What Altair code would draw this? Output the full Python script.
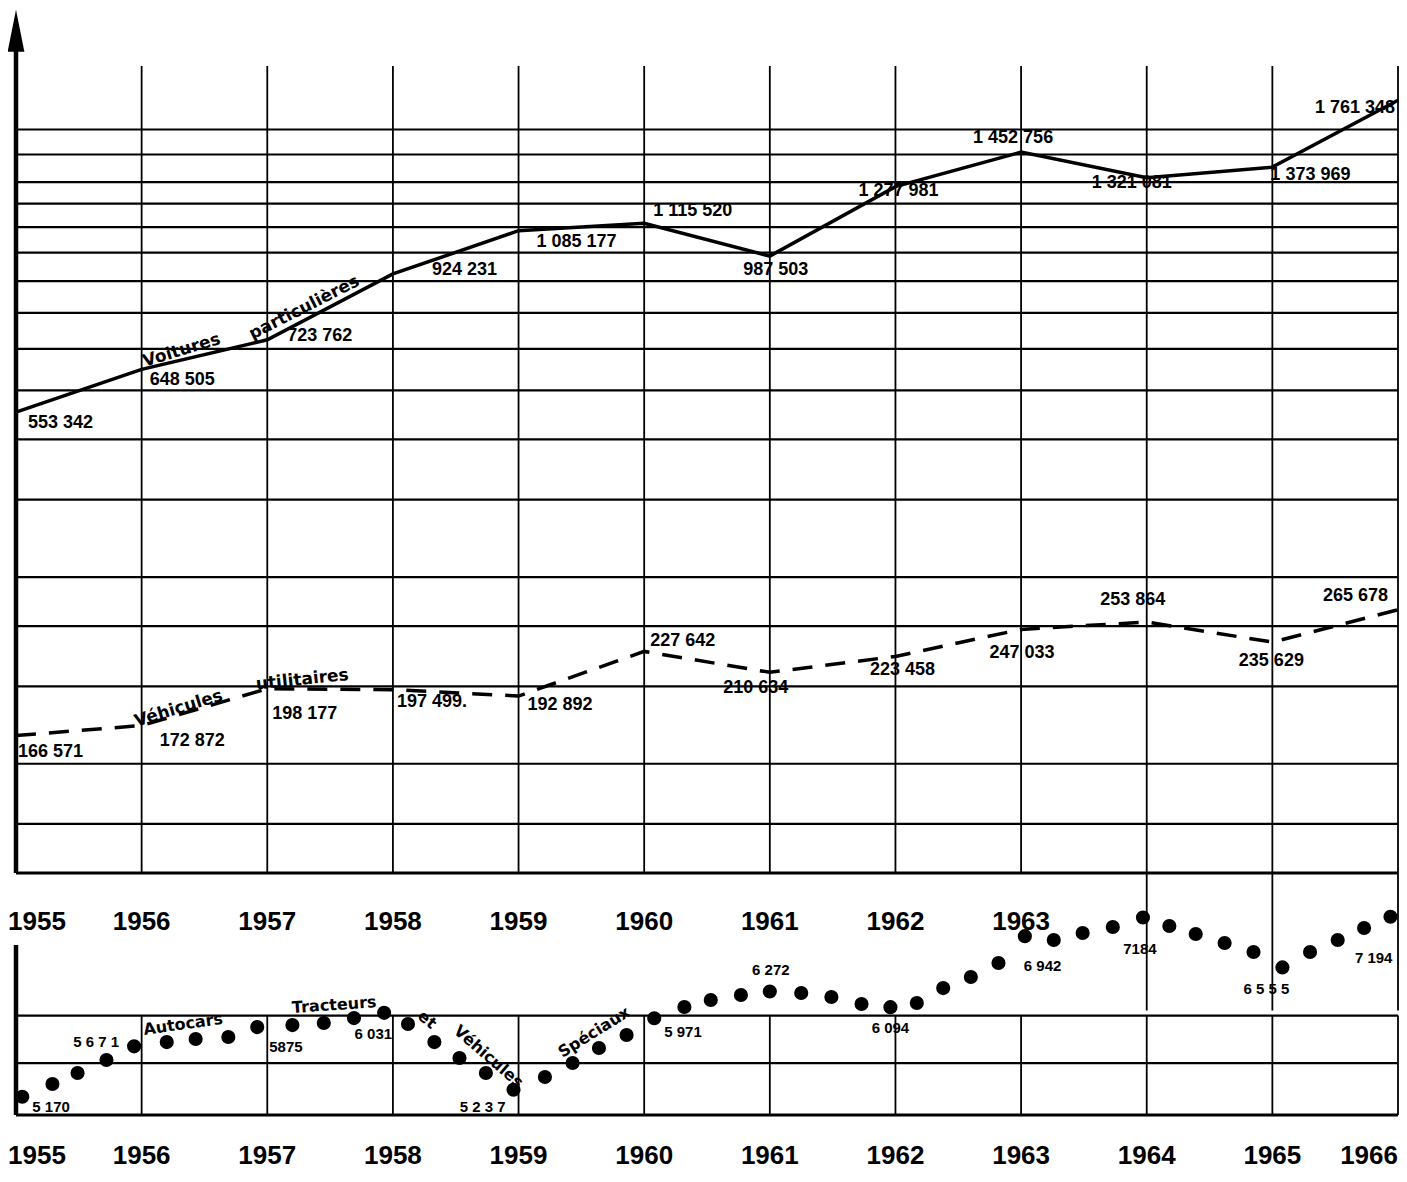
import math
import altair as alt
import pandas as pd

# ---------------------------------------------------------------- data
YEARS = [1955, 1956, 1957, 1958, 1959, 1960, 1961, 1962, 1963, 1964, 1965, 1966]

VOITURES = [553342, 648505, 723762, 924231, 1085177, 1115520, 987503,
            1277981, 1452756, 1321081, 1373969, 1761348]
VOITURES_LBL = ["553 342", "648 505", "723 762", "924 231", "1 085 177", "1 115 520",
                "987 503", "1 277 981", "1 452 756", "1 321 081", "1 373 969", "1 761 348"]

UTILITAIRES = [166571, 172872, 198177, 197499, 192892, 227642, 210634,
               223458, 247033, 253864, 235629, 265678]
UTILITAIRES_LBL = ["166 571", "172 872", "198 177", "197 499.", "192 892", "227 642",
                   "210 634", "223 458", "247 033", "253 864", "235 629", "265 678"]

# Autocars, tracteurs et véhicules spéciaux : labelled (annual) dots, as drawn
AUTOCARS_T = [1955.05, 1955.94, 1956.92, 1957.93, 1958.96, 1960.08, 1961.00,
              1961.96, 1963.03, 1963.97, 1965.08, 1965.94]
AUTOCARS = [5170, 5671, 5875, 6031, 5237, 5971, 6272, 6094, 6942, 7184, 6555, 7194]
AUTOCARS_LBL = ["5 170", "5 6 7 1", "5875", "6 031", "5 2 3 7", "5 971", "6 272",
                "6 094", "6 942", "7184", "6 5 5 5", "7 194"]
# intermediate dots
INTER_T = [1955.29, 1955.49, 1955.72, 1956.20, 1956.43, 1956.69, 1957.20, 1957.45,
           1957.69, 1958.12, 1958.33, 1958.53, 1958.74, 1959.21, 1959.43, 1959.64,
           1959.86, 1960.32, 1960.53, 1960.77, 1961.25, 1961.49, 1961.73, 1962.17,
           1962.38, 1962.60, 1962.82, 1963.26, 1963.49, 1963.73, 1964.18, 1964.39,
           1964.62, 1964.85, 1965.30, 1965.52, 1965.73]
INTER_V = [5293, 5400, 5531, 5716, 5748, 5769, 5897, 5919,
           5973, 5908, 5716, 5551, 5400, 5361, 5500, 5654,
           5790, 6096, 6175, 6231, 6254, 6209, 6129, 6140,
           6311, 6440, 6608, 6893, 6982, 7059, 7072, 6969,
           6855, 6743, 6743, 6893, 7046]

TOP_GRID = [120000, 150000, 200000, 250000, 300000, 400000, 500000, 600000, 700000,
            800000, 900000, 1000000, 1100000, 1200000, 1300000, 1440000, 1580000]
BOTTOM_GRID = [5500, 6000]
TOP_YEAR_LABELS = YEARS[:9]
BOTTOM_YEAR_LABELS = YEARS
LONG_YEARS = [1964, 1965, 1966]          # vertical lines running into the lower panel

# ---------------------------------------------------------------- layout / style
W, H = 1382, 1049
TOP_DOMAIN, TOP_RANGE = [100000, 2000000], [807, 0]
BOT_DOMAIN, BOT_RANGE = [5000, 6830], [1049, 879]
ARROW_AT = 2280000     # arrow head on the vertical axis (top scale)
LINK_LOW = 60000       # lower end (top scale) of the long vertical lines

NARROW = "Liberation Sans, Arial, sans-serif"
ROUND = "DejaVu Sans, Verdana, sans-serif"
YEAR_SIZE = 26

XS = alt.Scale(domain=[1955, 1966], nice=False, zero=False)
TS = alt.Scale(type="log", domain=TOP_DOMAIN, range=TOP_RANGE, nice=False)
BS = alt.Scale(type="log", domain=BOT_DOMAIN, range=BOT_RANGE, nice=False)


def X(f="t"):
    return alt.X(f + ":Q", scale=XS, axis=None)


def YT(f):
    return alt.Y(f + ":Q", scale=TS, axis=None)


def YB(f):
    return alt.Y(f + ":Q", scale=BS, axis=None)


def rot(ox, oy, ang):
    a = math.radians(ang)
    return ox * math.cos(a) + oy * math.sin(a), -ox * math.sin(a) + oy * math.cos(a)


df_v = pd.DataFrame({"t": YEARS, "v": VOITURES, "lbl": VOITURES_LBL})
df_u = pd.DataFrame({"t": YEARS, "v": UTILITAIRES, "lbl": UTILITAIRES_LBL})
df_a = pd.DataFrame({"t": AUTOCARS_T, "v": AUTOCARS, "lbl": AUTOCARS_LBL})
df_dots = pd.DataFrame({"t": AUTOCARS_T + INTER_T, "v": AUTOCARS + INTER_V})

# ---------------------------------------------------------------- upper panel
top = []
top.append(alt.Chart(pd.DataFrame({"g": TOP_GRID})).mark_rule(color="black", strokeWidth=2.2)
           .encode(y=YT("g")))
top.append(alt.Chart(pd.DataFrame({"g": [TOP_DOMAIN[0]]})).mark_rule(color="black", strokeWidth=3)
           .encode(y=YT("g")))
vg = pd.DataFrame({"t": YEARS[1:],
                   "a": [TOP_DOMAIN[1]] * 11,
                   "b": [LINK_LOW if y in LONG_YEARS else TOP_DOMAIN[0] for y in YEARS[1:]]})
top.append(alt.Chart(vg).mark_rule(color="black", strokeWidth=1.8)
           .encode(x=X(), y=YT("a"), y2="b:Q"))
top.append(alt.Chart(pd.DataFrame({"t": [1955], "a": [TOP_DOMAIN[0]], "b": [ARROW_AT]}))
           .mark_rule(color="black", strokeWidth=4.5).encode(x=X(), y=YT("a"), y2="b:Q"))
top.append(alt.Chart(pd.DataFrame({"t": [1955], "a": [ARROW_AT]}))
           .mark_point(shape="M0,-1L0.4,1L-0.4,1Z", size=1764, filled=True, opacity=1,
                       color="black", strokeWidth=0)
           .encode(x=X(), y=YT("a")))
top.append(alt.Chart(df_v).mark_line(color="black", strokeWidth=3.5).encode(x=X(), y=YT("v")))
top.append(alt.Chart(df_u).mark_line(color="black", strokeWidth=3.5, strokeDash=[20, 13])
           .encode(x=X(), y=YT("v")))

V_PLACE = [("left", 12, 11), ("left", 8, 11), ("left", 20, -4), ("left", 39, -4),
           ("left", 18, 11), ("left", 9, -12), ("center", 6, 14), ("center", 3, 4),
           ("center", -8, -14), ("center", -15, 5), ("left", -2, 8), ("right", -3, 8)]
U_PLACE = [("left", 2, 16), ("left", 18, 15), ("left", 5, 25), ("left", 4, 12),
           ("left", 9, 9), ("left", 6, -10), ("center", -14, 16), ("center", 7, 14),
           ("center", 1, 24), ("center", -14, -22), ("center", -1, 19), ("right", -10, -14)]
for df, places in ((df_v, V_PLACE), (df_u, U_PLACE)):
    for i, (al, dx, dy) in enumerate(places):
        top.append(alt.Chart(df.iloc[[i]]).mark_text(
            align=al, baseline="middle", dx=dx, dy=dy, font=NARROW, fontSize=18,
            fontWeight="bold", color="black").encode(x=X(), y=YT("v"), text="lbl:N"))

TOP_NAMES = [("Voitures", df_v, 1, 40, -19, -17), ("particulières", df_v, 2, 37, -32, -27),
             ("Véhicules", df_u, 1, 37, -17, -17), ("utilitaires", df_u, 2, 35, -9, -6)]
for txt, df, i, ox, oy, ang in TOP_NAMES:
    dx, dy = rot(ox, oy, ang)
    top.append(alt.Chart(df.iloc[[i]]).mark_text(
        text=txt, align="center", baseline="middle", dx=dx, dy=dy, angle=ang % 360,
        font=ROUND, fontSize=17, fontWeight="bold", color="black")
        .encode(x=X(), y=YT("v")))

ty = pd.DataFrame({"t": TOP_YEAR_LABELS, "b": [TOP_DOMAIN[0]] * len(TOP_YEAR_LABELS)})
top.append(alt.Chart(ty.iloc[[0]]).mark_text(
    align="left", baseline="middle", dx=-8, dy=49, font=NARROW, fontSize=YEAR_SIZE,
    fontWeight="bold", color="black").encode(x=X(), y=YT("b"), text="t:N"))
top.append(alt.Chart(ty.iloc[1:]).mark_text(
    align="center", baseline="middle", dy=49, font=NARROW, fontSize=YEAR_SIZE,
    fontWeight="bold", color="black").encode(x=X(), y=YT("b"), text="t:N"))

# ---------------------------------------------------------------- lower panel
bot = []
bot.append(alt.Chart(pd.DataFrame({"g": BOTTOM_GRID})).mark_rule(color="black", strokeWidth=2.2)
           .encode(y=YB("g")))
bot.append(alt.Chart(pd.DataFrame({"g": [BOT_DOMAIN[0]]})).mark_rule(color="black", strokeWidth=3)
           .encode(y=YB("g")))
bot.append(alt.Chart(pd.DataFrame({"t": YEARS[1:], "a": [BOTTOM_GRID[-1]] * 11,
                                   "b": [BOT_DOMAIN[0]] * 11}))
           .mark_rule(color="black", strokeWidth=1.8).encode(x=X(), y=YB("a"), y2="b:Q"))
bot.append(alt.Chart(pd.DataFrame({"t": [1955], "a": [BOT_DOMAIN[0]], "b": [BOT_DOMAIN[1]]}))
           .mark_rule(color="black", strokeWidth=4.5).encode(x=X(), y=YB("a"), y2="b:Q"))
bot.append(alt.Chart(df_dots).mark_point(shape="circle", size=200, filled=True, opacity=1,
                                         color="black").encode(x=X(), y=YB("v")))

A_PLACE = [("left", 10, 10), ("right", -15, -4), ("left", 12, 20), ("right", 8, 21),
           ("right", -8, 17), ("left", 10, 14), ("center", 1, -21), ("center", 0, 21),
           ("left", -1, 30), ("center", -3, 32), ("center", -16, 22), ("right", 2, 41)]
for i, (al, dx, dy) in enumerate(A_PLACE):
    bot.append(alt.Chart(df_a.iloc[[i]]).mark_text(
        align=al, baseline="middle", dx=dx, dy=dy, font=NARROW, fontSize=15,
        fontWeight="bold", color="black").encode(x=X(), y=YB("v"), text="lbl:N"))

BOT_NAMES = [("Autocars", 1, 49, -22, -8), ("Tracteurs", 2, 77, -22, -4), ("et", 3, 43, 7, 40),
             ("Véhicules", 4, -25, -33, 41), ("Spéciaux", 5, -60, 14, -32)]
for txt, i, ox, oy, ang in BOT_NAMES:
    dx, dy = rot(ox, oy, ang)
    bot.append(alt.Chart(df_a.iloc[[i]]).mark_text(
        text=txt, align="center", baseline="middle", dx=dx, dy=dy, angle=ang % 360,
        font=ROUND, fontSize=16, fontWeight="bold", color="black")
        .encode(x=X(), y=YB("v")))

by = pd.DataFrame({"t": BOTTOM_YEAR_LABELS, "b": [BOT_DOMAIN[0]] * len(BOTTOM_YEAR_LABELS)})
YEAR_DY_BOTTOM = 41
bot.append(alt.Chart(by.iloc[[0]]).mark_text(
    align="left", baseline="middle", dx=-8, dy=YEAR_DY_BOTTOM, font=NARROW, fontSize=YEAR_SIZE,
    fontWeight="bold", color="black").encode(x=X(), y=YB("b"), text="t:N"))
bot.append(alt.Chart(by.iloc[1:-1]).mark_text(
    align="center", baseline="middle", dy=YEAR_DY_BOTTOM, font=NARROW, fontSize=YEAR_SIZE,
    fontWeight="bold", color="black").encode(x=X(), y=YB("b"), text="t:N"))
bot.append(alt.Chart(by.iloc[[-1]]).mark_text(
    align="right", baseline="middle", dx=0, dy=YEAR_DY_BOTTOM, font=NARROW, fontSize=YEAR_SIZE,
    fontWeight="bold", color="black").encode(x=X(), y=YB("b"), text="t:N"))

chart = (alt.layer(alt.layer(*top), alt.layer(*bot))
         .resolve_scale(y="independent")
         .properties(width=W, height=H, background="white",
                     autosize=alt.AutoSizeParams(type="none"),
                     padding={"left": 8, "top": 58, "right": 1, "bottom": 57})
         .configure_view(strokeWidth=0))

chart.save("out.html", embed_options={"renderer": "svg", "actions": False})
